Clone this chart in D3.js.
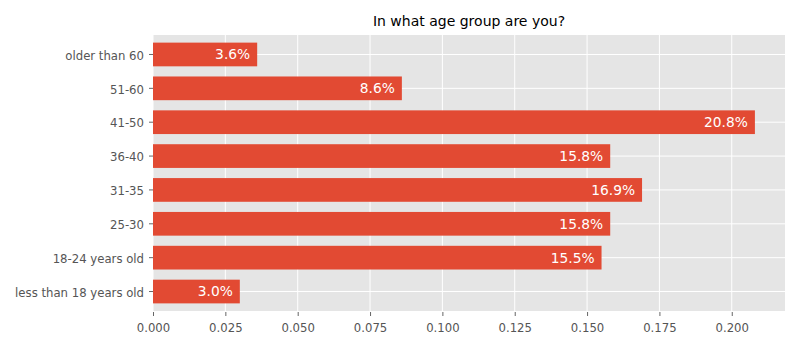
<!DOCTYPE html>
<html><head><meta charset="utf-8">
<script src="https://cdn.jsdelivr.net/npm/d3@7"></script>
<style>body{margin:0;background:#fff}</style>
</head><body>
<svg id="c" width="800" height="350"></svg>
<script>
const categories = ["older than 60","51-60","41-50","36-40","31-35","25-30","18-24 years old","less than 18 years old"];
const values = [0.036, 0.086, 0.208, 0.158, 0.169, 0.158, 0.155, 0.030];
const labels = ["3.6%","8.6%","20.8%","15.8%","16.9%","15.8%","15.5%","3.0%"];
const xTicks = [0, 0.025, 0.05, 0.075, 0.1, 0.125, 0.15, 0.175, 0.2];
const title = "In what age group are you?";

const svg = d3.select("#c");
const m = {l:153, r:785, t:35, b:311};
const font = "DejaVu Sans, sans-serif";
const x = d3.scaleLinear().domain([0, d3.max(values)*1.05]).range([m.l, m.r]);
const y = d3.scaleBand().domain(categories).range([m.t, m.b]).paddingInner(0.3).paddingOuter(0.225);

svg.append("rect").attr("x", m.l).attr("y", m.t).attr("width", m.r-m.l).attr("height", m.b-m.t).attr("fill", "#E5E5E5");

const g = svg.append("g");
g.selectAll(".gx").data(xTicks).enter().append("line")
  .attr("x1", d=>x(d)).attr("x2", d=>x(d)).attr("y1", m.t).attr("y2", m.b)
  .attr("stroke", "#fff").attr("stroke-width", 1);
g.selectAll(".gy").data(categories).enter().append("line")
  .attr("x1", m.l).attr("x2", m.r).attr("y1", d=>y(d)+y.bandwidth()/2).attr("y2", d=>y(d)+y.bandwidth()/2)
  .attr("stroke", "#fff").attr("stroke-width", 1);

svg.selectAll(".bar").data(categories).enter().append("rect")
  .attr("x", x(0)).attr("y", d=>y(d)).attr("width", (d,i)=>x(values[i])-x(0)).attr("height", y.bandwidth())
  .attr("fill", "#E24A33");

svg.selectAll(".lbl").data(categories).enter().append("text")
  .attr("x", (d,i)=>x(values[i])-7).attr("y", d=>y(d)+y.bandwidth()/2)
  .attr("dy", "0.36em").attr("text-anchor", "end")
  .attr("fill", "#fff").attr("font-family", font).attr("font-size", 13.8)
  .text((d,i)=>labels[i]);

const xAxis = d3.axisBottom(x).tickValues(xTicks).tickFormat(d3.format(".3f")).tickSize(4).tickPadding(8);
const ax = svg.append("g").attr("transform", `translate(0,${m.b+1})`).call(xAxis);
const yAxis = d3.axisLeft(y).tickSize(4).tickPadding(5);
const ay = svg.append("g").attr("transform", `translate(${m.l},0)`).call(yAxis);
[ax, ay].forEach(a=>{
  a.select(".domain").remove();
  a.selectAll(".tick line").attr("stroke", "#555").attr("stroke-width", 0.9);
  a.selectAll(".tick text").attr("fill", "#555").attr("font-family", font).attr("font-size", 11.7);
});
ay.selectAll(".tick text").attr("dy", "0.45em");

svg.append("text").attr("x", (m.l+m.r)/2).attr("y", 26).attr("text-anchor", "middle")
  .attr("font-family", font).attr("font-size", 14).attr("fill", "#000").text(title);
</script>
</body></html>
